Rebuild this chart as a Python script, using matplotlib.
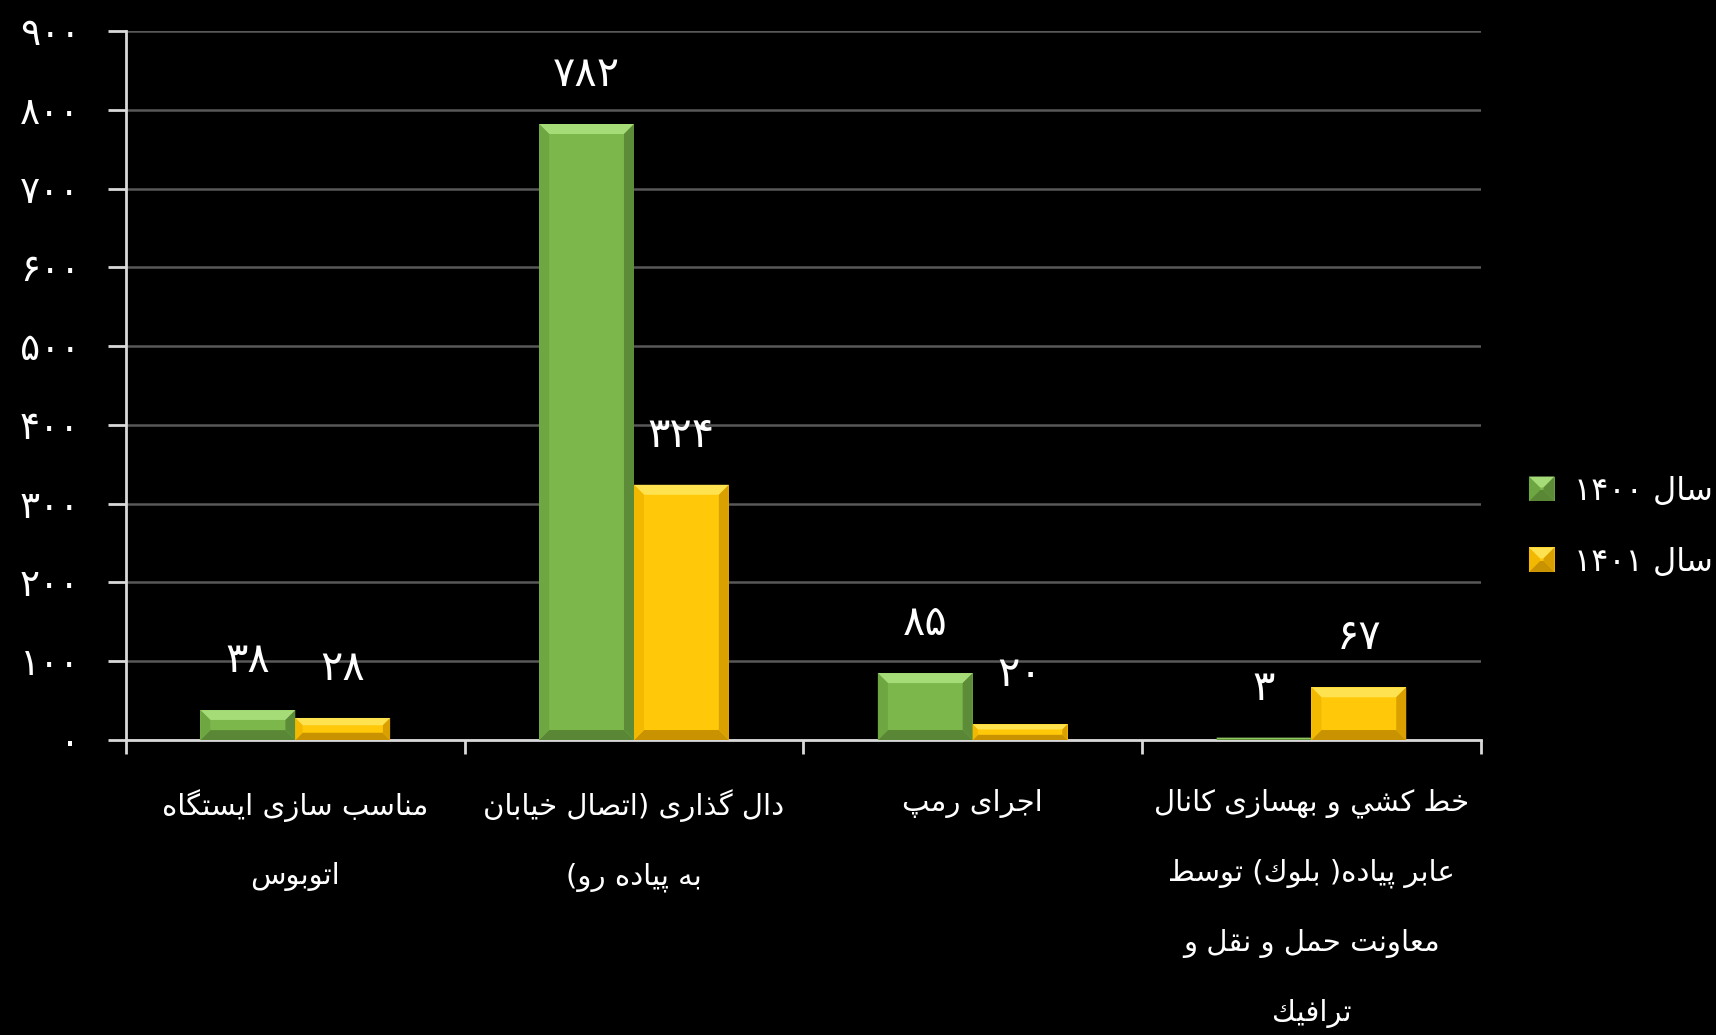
import re
import numpy as np
import matplotlib
matplotlib.use('Agg')
import matplotlib.pyplot as plt
from matplotlib.patches import Polygon, Patch
from matplotlib.legend_handler import HandlerBase

# chart data (logical Persian text)
categories = ['مناسب سازی ایستگاه\nاتوبوس',
              'دال گذاری (اتصال خیابان\nبه پیاده رو)',
              'اجرای رمپ',
              'خط کشي و بهسازی کانال\nعابر پیاده( بلوك) توسط\nمعاونت حمل و نقل و\nترافيك']
series_names = ['سال ۱۴۰۰', 'سال ۱۴۰۱']
values_1400 = [38, 782, 85, 3]
values_1401 = [28, 324, 20, 67]
y_ticks = [0, 100, 200, 300, 400, 500, 600, 700, 800, 900]

# matplotlib has no arabic shaping, so pick presentation forms by hand
# (iso, fin, ini, med); right-joining letters have no ini/med
def dual(b):
    return (b, b + 1, b + 2, b + 3)

FORMS = {
    '\u0622': (0xFE81, 0xFE82, None, None),
    '\u0627': (0xFE8D, 0xFE8E, None, None),
    '\u0628': dual(0xFE8F), '\u062A': dual(0xFE95), '\u062B': dual(0xFE99),
    '\u062C': dual(0xFE9D), '\u062D': dual(0xFEA1), '\u062E': dual(0xFEA5),
    '\u062F': (0xFEA9, 0xFEAA, None, None),
    '\u0630': (0xFEAB, 0xFEAC, None, None),
    '\u0631': (0xFEAD, 0xFEAE, None, None),
    '\u0632': (0xFEAF, 0xFEB0, None, None),
    '\u0633': dual(0xFEB1), '\u0634': dual(0xFEB5), '\u0635': dual(0xFEB9),
    '\u0636': dual(0xFEBD), '\u0637': dual(0xFEC1), '\u0638': dual(0xFEC5),
    '\u0639': dual(0xFEC9), '\u063A': dual(0xFECD), '\u0641': dual(0xFED1),
    '\u0642': dual(0xFED5), '\u0643': dual(0xFED9), '\u0644': dual(0xFEDD),
    '\u0645': dual(0xFEE1), '\u0646': dual(0xFEE5), '\u0647': dual(0xFEE9),
    '\u0648': (0xFEED, 0xFEEE, None, None),
    '\u064A': dual(0xFEF1), '\u06CC': dual(0xFBFC), '\u06A9': dual(0xFB8E),
    '\u06AF': dual(0xFB92), '\u067E': dual(0xFB56), '\u0686': dual(0xFB7A),
    '\u0698': (0xFB8A, 0xFB8B, None, None),
}
LAM_ALEF = {'\u0627': (0xFEFB, 0xFEFC), '\u0622': (0xFEF5, 0xFEF6)}
MIRROR = {'(': ')', ')': '('}


def joins_next(c):
    return c in FORMS and FORMS[c][2] is not None


def shape_line(s):
    out = []
    i = 0
    while i < len(s):
        c = s[i]
        if c not in FORMS:
            out.append(c)
            i += 1
            continue
        prev = s[i - 1] if i > 0 else ''
        nxt = s[i + 1] if i + 1 < len(s) else ''
        after_prev = joins_next(prev)
        if c == '\u0644' and nxt in LAM_ALEF:
            out.append(chr(LAM_ALEF[nxt][1 if after_prev else 0]))
            i += 2
            continue
        before_next = joins_next(c) and nxt in FORMS
        iso, fin, ini, med = FORMS[c]
        if after_prev and before_next:
            out.append(chr(med))
        elif after_prev:
            out.append(chr(fin))
        elif before_next:
            out.append(chr(ini))
        else:
            out.append(chr(iso))
        i += 1
    shaped = ''.join(out)
    # right-to-left visual order, digit runs stay left-to-right
    tokens = re.findall(r'[\u06F0-\u06F90-9]+|.', shaped)
    return ''.join(MIRROR.get(t, t) for t in reversed(tokens))


def fa(text):
    return '\n'.join(shape_line(line) for line in text.split('\n'))


def fa_num(v):
    return str(v).translate(str.maketrans('0123456789', '۰۱۲۳۴۵۶۷۸۹'))


plt.rcParams['font.family'] = 'DejaVu Sans'
plt.rcParams['text.color'] = 'white'

colors = {'body': ['#7cb74b', '#ffc90a'],
          'top': ['#a6dc78', '#ffe24f'],
          'bottom': ['#5a8735', '#c99200'],
          'left': ['#6ea642', '#f2b900'],
          'right': ['#5c8c37', '#d9a000']}


def bevel_shapes(x0, y0, x1, y1, b):
    return {
        'top': [(x0, y1), (x1, y1), (x1 - b, y1 - b), (x0 + b, y1 - b)],
        'bottom': [(x0, y0), (x1, y0), (x1 - b, y0 + b), (x0 + b, y0 + b)],
        'left': [(x0, y0), (x0, y1), (x0 + b, y1 - b), (x0 + b, y0 + b)],
        'right': [(x1, y0), (x1, y1), (x1 - b, y1 - b), (x1 - b, y0 + b)],
    }


class BevelHandler(HandlerBase):
    # legend key drawn as a small bevelled square
    def __init__(self, s):
        super().__init__()
        self.s = s

    def create_artists(self, legend, orig_handle, xdescent, ydescent,
                       width, height, fontsize, trans):
        x0, y0 = -xdescent, -ydescent
        x1, y1 = x0 + width, y0 + height
        arts = [Polygon([(x0, y0), (x1, y0), (x1, y1), (x0, y1)],
                        facecolor=colors['body'][self.s], edgecolor='none', transform=trans)]
        for key, pts in bevel_shapes(x0, y0, x1, y1, 0.45 * height).items():
            arts.append(Polygon(pts, facecolor=colors[key][self.s], edgecolor='none',
                                transform=trans))
        return arts


fig = plt.figure(figsize=(17.16, 10.35), dpi=100, facecolor='black')
ax = fig.add_axes([0.0734, 0.285, 0.7895, 0.685])
ax.set_facecolor('black')

x = np.arange(len(categories))
w = 0.28
bars = [ax.bar(x - w / 2, values_1400, w, color=colors['body'][0], zorder=3),
        ax.bar(x + w / 2, values_1401, w, color=colors['body'][1], zorder=3)]

ax.set_xlim(-0.5, len(categories) - 0.5)
ax.set_ylim(0, 900)

# bevel edges, sized in pixels from each bar's own rectangle
to_px = ax.transData
to_data = ax.transData.inverted()
for s, group in enumerate(bars):
    for rect in group:
        (x0, y0) = to_px.transform((rect.get_x(), 0))
        (x1, y1) = to_px.transform((rect.get_x() + rect.get_width(), rect.get_height()))
        b = min(10, 0.33 * (y1 - y0))
        for key, pts in bevel_shapes(x0, y0, x1, y1, b).items():
            ax.add_patch(Polygon(to_data.transform(pts), closed=True,
                                 facecolor=colors[key][s], edgecolor='none', zorder=4))
        ax.annotate(fa_num(int(rect.get_height())),
                    (rect.get_x() + rect.get_width() / 2, rect.get_height()),
                    xytext=(0, 36), textcoords='offset points',
                    ha='center', va='center', fontsize=30, color='white', zorder=5)

# axes styling
ax.set_yticks(y_ticks)
ax.set_yticklabels([fa_num(v) for v in y_ticks], fontsize=27, color='white')
ax.tick_params(axis='y', direction='out', length=13, width=2, color='#d9d9d9', pad=20)
ax.yaxis.grid(True, color='#595959', linewidth=1.8, zorder=0)
ax.set_axisbelow(True)

ax.set_xticks(x)
ax.set_xticklabels([fa(c) for c in categories], fontsize=21, color='white',
                   linespacing=2.85, multialignment='center')
ax.tick_params(axis='x', which='major', length=0, pad=35)
ax.set_xticks(np.arange(len(categories) + 1) - 0.5, minor=True)
ax.tick_params(axis='x', which='minor', direction='out', length=10, width=2, color='#d9d9d9')

for side in ['top', 'right']:
    ax.spines[side].set_visible(False)
for side in ['left', 'bottom']:
    ax.spines[side].set_color('#d9d9d9')
    ax.spines[side].set_linewidth(2)

handles = [Patch(facecolor=colors['body'][i]) for i in range(2)]
fig.legend(handles, [fa(n) for n in series_names], loc='center left',
           bbox_to_anchor=(0.891, 0.491), frameon=False, fontsize=23,
           handlelength=0.8, handleheight=0.8, handletextpad=0.6, labelspacing=1.25,
           labelcolor='white', borderaxespad=0, borderpad=0,
           handler_map={handles[0]: BevelHandler(0), handles[1]: BevelHandler(1)})

fig.savefig('out.png', dpi=100, facecolor='black')
